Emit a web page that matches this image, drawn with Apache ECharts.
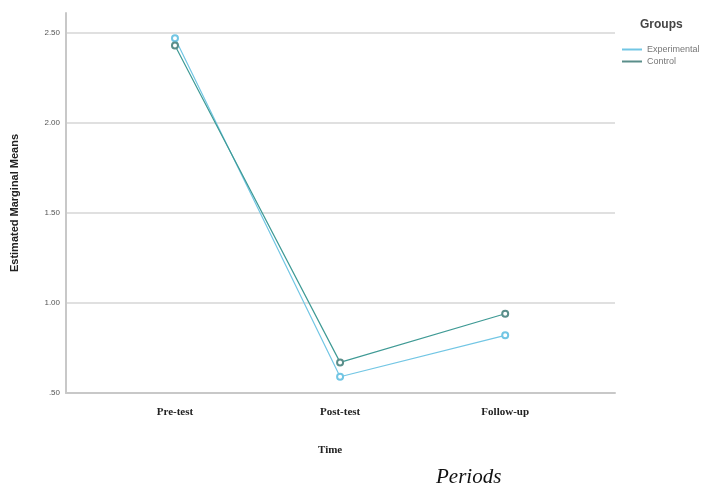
<!DOCTYPE html>
<html><head><meta charset="utf-8">
<script src="https://cdn.jsdelivr.net/npm/echarts@6/dist/echarts.min.js"></script>
<style>html,body{margin:0;padding:0;background:#fff}#c{width:715px;height:495px}</style>
</head><body><div id="c"></div>
<script>
var categories = ['Pre-test', 'Post-test', 'Follow-up'];
var experimental = [2.47, 0.59, 0.82];
var control = [2.43, 0.67, 0.94];
var yTicks = [0.5, 1.0, 1.5, 2.0, 2.5];
var yTickLabels = ['.50', '1.00', '1.50', '2.00', '2.50'];

function pts(arr){ return arr.map(function(v,i){ return [i, v]; }); }

var chart = echarts.init(document.getElementById('c'));
chart.setOption({
  animation: false,
  grid: { left: 66, right: 100, top: 13, bottom: 102 },
  legend: {
    left: 617, top: 40, orient: 'vertical', itemWidth: 20, itemHeight: 2, itemGap: 3,
    icon: 'rect',
    textStyle: { color: '#777', fontSize: 9, fontFamily: 'Liberation Sans, Arial' },
    data: ['Experimental', 'Control']
  },
  graphic: [
    { type: 'text', left: 640, top: 19, style: { text: 'Groups', font: 'bold 12px Liberation Sans, Arial', fill: '#444' } },
    { type: 'text', left: 318, top: 445, style: { text: 'Time', font: 'bold 11px Liberation Serif, serif', fill: '#222' } },
    { type: 'text', left: 436, top: 467, style: { text: 'Periods', font: 'italic 21px Liberation Serif, serif', fill: '#111' } }
  ],
  xAxis: {
    type: 'value', min: -0.66, max: 2.665,
    axisLine: { show: true, onZero: false, lineStyle: { color: '#c8c8c8', width: 2 } },
    axisTick: { show: false },
    splitLine: { show: false },
    axisLabel: {
      customValues: [0, 1, 2],
      formatter: function(v){ return categories[Math.round(v)]; },
      color: '#222', fontSize: 11, fontWeight: 'bold', fontFamily: 'Liberation Serif, serif', margin: 14
    }
  },
  yAxis: {
    type: 'value', min: 0.5, max: 2.61, interval: 0.5,
    name: 'Estimated Marginal Means', nameLocation: 'middle', nameGap: 46,
    nameTextStyle: { color: '#222', fontSize: 11, fontWeight: 'bold', fontFamily: 'Liberation Sans, Arial' },
    axisLine: { show: true, onZero: false, lineStyle: { color: '#c8c8c8', width: 2 } },
    axisTick: { show: false },
    splitLine: { show: true, showMaxLine: false, lineStyle: { color: '#e0e0e0', width: 2 } },
    axisLabel: {
      customValues: yTicks,
      formatter: function(v){ var i = yTicks.indexOf(Math.round(v*100)/100); return i >= 0 ? yTickLabels[i] : ''; },
      color: '#555', fontSize: 8, fontFamily: 'Liberation Sans, Arial', margin: 6
    }
  },
  series: [
    { name: 'Experimental', type: 'line', data: pts(experimental), symbol: 'emptyCircle', symbolSize: 6,
      color: '#72c6e4', lineStyle: { width: 1.2, color: '#72c6e4' }, itemStyle: { color: '#72c6e4', borderWidth: 1.5 } },
    { name: 'Control', type: 'line', data: pts(control), symbol: 'emptyCircle', symbolSize: 6,
      color: '#3f9a95', lineStyle: { width: 1.2, color: '#3f9a95' }, itemStyle: { color: '#5a8e8a', borderWidth: 1.5 } }
  ]
});
</script></body></html>
